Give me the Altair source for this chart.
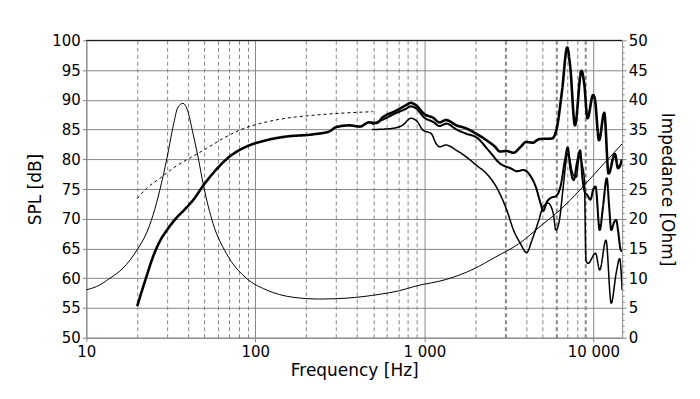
import altair as alt
import pandas as pd

# On-axis SPL (thick line)
f_axis = [20, 20.7, 22.7, 24.8, 27.2, 30, 34, 38, 43, 49.5, 56, 70, 88, 116, 150, 220, 275, 300, 360, 415,
          470, 520, 570, 683, 780, 830, 890, 1000, 1125, 1230, 1340, 1550, 1770, 2030, 2330, 2620, 2800,
          3070, 3370, 3690, 4000, 4380, 4790, 5700, 6100, 6530, 7000, 7300, 7780, 8500, 8830, 9230, 9960,
          10200, 10800, 11600, 12300, 13400, 14000, 14800]
spl_axis = [55.3, 56.7, 60.3, 63.6, 66.2, 68.1, 70.1, 71.5, 73.2, 75.7, 77.6, 80.4, 82.1, 83.2, 83.8, 84.2,
            84.7, 85.4, 85.7, 85.5, 86.2, 86.1, 87.1, 88.2, 89.1, 89.5, 89.1, 87.6, 87.0, 86.2, 86.6, 85.7,
            85.2, 84.3, 83.2, 82.1, 81.3, 81.4, 81.1, 82.0, 82.9, 82.8, 83.4, 83.5, 85.5, 91.6, 98.8, 95.5,
            85.7, 94.9, 92.7, 86.9, 90.8, 90.2, 83.2, 87.8, 77.6, 80.9, 78.5, 80.0]

# 30 deg off-axis SPL (thin)
f_30 = [490, 570, 683, 780, 830, 890, 1000, 1125, 1230, 1350, 1550, 1770, 2030, 2430, 2800, 3230, 3530,
        3860, 4220, 4560, 4880, 5050, 5300, 5600, 6000, 6400, 6800, 7050, 7300, 7650, 8000, 8350, 8600,
        8900, 9200, 9600, 10000, 10300, 10900, 11400, 12000, 12400, 12750, 13300, 13650, 14000, 14500, 14800]
spl_30 = [85.9, 86.7, 87.8, 88.5, 88.9, 88.6, 87.0, 86.3, 85.6, 86.0, 85.0, 84.3, 83.7, 81.3, 79.3, 78.5,
          78.0, 78.2, 77.3, 75.4, 72.5, 71.3, 72.8, 73.5, 73.8, 75.5, 80.0, 82.0, 78.5, 76.5, 79.5, 81.5,
          77.0, 74.5, 74.0, 73.2, 75.0, 75.4, 68.1, 72.0, 76.8, 72.0, 68.1, 69.5, 69.8, 68.0, 64.8, 64.5]

# 60 deg off-axis SPL (thin)
f_60 = [490, 650, 740, 835, 910, 980, 1100, 1170, 1230, 1340, 1550, 1770, 2030, 2330, 2660, 3070, 3370,
        3690, 4030, 4330, 4760, 5040, 5400, 5790, 6000, 6300, 6600, 7060, 7550, 7900, 8270, 8600, 8850,
        9040, 9300, 10300, 10900, 11870, 12750, 13650, 14300, 14800]
spl_60 = [85.0, 85.2, 85.7, 86.9, 86.3, 84.9, 84.3, 82.7, 82.1, 82.4, 81.5, 80.4, 79.0, 77.6, 75.4, 71.5,
          68.1, 65.9, 64.3, 66.4, 69.8, 72.0, 72.6, 70.9, 68.1, 69.8, 74.8, 81.0, 77.6, 77.0, 80.5, 79.0,
          76.5, 63.0, 62.5, 64.2, 61.4, 66.4, 55.8, 60.9, 63.3, 58.0]

# Dashed SPL curve
f_dash = [20, 22.7, 27.2, 32.6, 40.9, 51.3, 64.4, 80.7, 106, 152, 220, 345, 495]
spl_dash = [73.4, 75.1, 76.8, 78.5, 80.2, 81.8, 83.5, 84.9, 86.0, 86.9, 87.4, 87.8, 88.0]

# Impedance
f_imp = [10, 11.5, 13.8, 16.5, 20, 22.7, 24.8, 27.2, 30, 32.6, 34.9, 37.3, 39.4, 42.8, 45.8, 49.5, 56.2,
         67.3, 88.5, 116, 167, 240, 345, 545, 712, 895, 1350, 1940, 2650, 3670, 4830, 6360, 8300, 10900, 14800]
z_imp = [8.05, 8.6, 10.0, 11.7, 14.8, 17.6, 20.6, 24.8, 30.2, 35.5, 38.8, 39.4, 38.5, 34.3, 30.4, 25.4,
         19.2, 14.2, 10.0, 8.05, 6.8, 6.5, 6.65, 7.3, 7.9, 8.7, 9.8, 11.5, 13.6, 15.9, 18.7, 21.5, 24.8,
         28.5, 32.6]

grid_freqs = [10, 20, 30, 40, 50, 60, 70, 80, 90, 100, 200, 300, 400, 500, 600, 700, 800, 900,
              1000, 2000, 3000, 4000, 5000, 6000, 7000, 8000, 9000, 10000]
spl_ticks = list(range(50, 101, 5))
imp_ticks = list(range(0, 51))
top_value = [100]

rows = []
for name, fs, vs in [("axis", f_axis, spl_axis), ("d30", f_30, spl_30),
                     ("d60", f_60, spl_60), ("dash", f_dash, spl_dash)]:
    for i, (f, v) in enumerate(zip(fs, vs)):
        rows.append({"series": name, "f": f, "v": v, "i": i})
df_spl = pd.DataFrame(rows)
df_imp = pd.DataFrame({"f": f_imp, "z": z_imp, "i": list(range(len(f_imp)))})
df_top = pd.DataFrame({"v": top_value})

FONT = "DejaVu Sans"
GRID = "#868686"

x_scale = alt.Scale(type="log", domain=[10, 14800], nice=False)
x_axis = alt.Axis(
    values=grid_freqs,
    grid=True,
    gridColor=GRID,
    gridWidth={"condition": {"test": "indexof([3000,6000,9000], datum.value) >= 0", "value": 2}, "value": 1},
    gridDash={"condition": {"test": "indexof([10,100,1000,10000], datum.value) >= 0", "value": []},
              "value": [4, 3]},
    tickSize={"condition": {"test": "indexof([10,100,1000,10000], datum.value) >= 0", "value": 4},
              "value": 0},
    tickColor=GRID,
    domainColor=GRID,
    labelExpr="datum.value == 10 ? '10' : datum.value == 100 ? '100' : datum.value == 1000 ? '1 000' : datum.value == 10000 ? '10 000' : ''",
    labelOverlap=False,
    labelFlush=False,
    labelPadding=3,
    labelFont=FONT, labelFontSize=15, labelColor="black",
    title="Frequency [Hz]", titleFont=FONT, titleFontSize=17, titleFontWeight="normal",
    titleColor="black", titlePadding=3,
)
x_enc = alt.X("f:Q", scale=x_scale, axis=x_axis)

y_spl = alt.Y(
    "v:Q",
    scale=alt.Scale(domain=[50, 100], nice=False, zero=False),
    axis=alt.Axis(values=spl_ticks, grid=True, gridColor=GRID, tickColor=GRID, domainColor=GRID,
                  tickSize=4, labelPadding=2, labelOverlap=False,
                  labelFont=FONT, labelFontSize=15, labelColor="black",
                  title="SPL [dB]", titleFont=FONT, titleFontSize=17, titleFontWeight="normal",
                  titleColor="black", titlePadding=7),
)

spl_lines = alt.Chart(df_spl).mark_line(color="black", clip=True, interpolate="monotone").encode(
    x=x_enc,
    y=y_spl,
    detail="series:N",
    order="i:Q",
    strokeWidth=alt.StrokeWidth("series:N", scale=alt.Scale(domain=["axis", "d30", "d60", "dash"],
                                                           range=[2.6, 1, 1, 1]), legend=None),
    strokeDash=alt.StrokeDash("series:N", scale=alt.Scale(domain=["axis", "d30", "d60", "dash"],
                                                         range=[[1, 0], [1, 0], [1, 0], [3, 3]]), legend=None),
)

top_border = alt.Chart(df_top).mark_rule(color="black", strokeWidth=1).encode(y=y_spl)

spl_layer = alt.layer(spl_lines, top_border)

imp_layer = alt.Chart(df_imp).mark_line(color="black", strokeWidth=1, clip=True,
                                        interpolate="monotone").encode(
    x=x_enc,
    y=alt.Y("z:Q",
            scale=alt.Scale(domain=[0, 50], nice=False),
            axis=alt.Axis(orient="right", values=imp_ticks, grid=False, tickColor=GRID, domainColor=GRID,
                          tickSize={"condition": {"test": "datum.value % 5 === 0", "value": 4}, "value": 2},
                          labelExpr="datum.value % 5 === 0 ? datum.label : ''",
                          labelOverlap=False, labelPadding=2,
                          labelFont=FONT, labelFontSize=15, labelColor="black",
                          title="Impedance [Ohm]", titleFont=FONT, titleFontSize=17,
                          titleFontWeight="normal", titleColor="black", titlePadding=10)),
    order="i:Q",
)

chart = alt.layer(spl_layer, imp_layer).resolve_scale(y="independent").properties(
    width=537, height=298,
    autosize=alt.AutoSizeParams(type="none"),
    padding={"left": 78.5, "top": 32, "right": 70, "bottom": 53},
    background="white",
).configure_view(stroke=None)

chart.save("out.html", embed_options={"renderer": "svg", "actions": False})
